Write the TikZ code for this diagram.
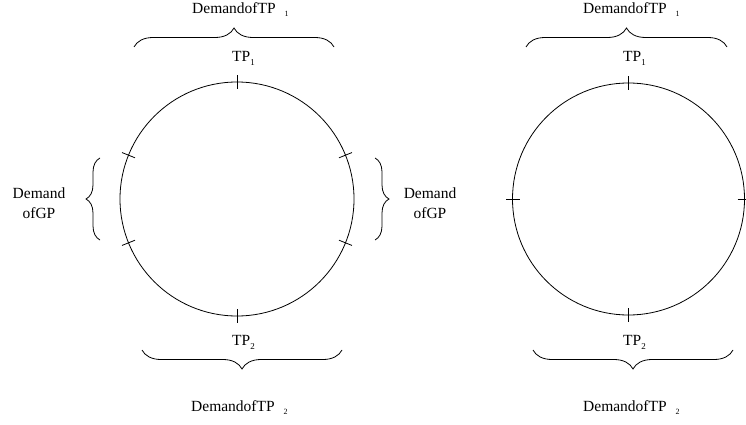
\documentclass[tikz,border=0pt]{standalone}
\usepackage{fontspec}
\setmainfont{Liberation Serif}
\usetikzlibrary{decorations.pathreplacing}
\begin{document}
\begin{tikzpicture}[x=1pt,y=-1pt,
  ring/.style={circle,draw,line width=0.8pt,inner sep=0pt},
  tickmark/.style={line width=0.8pt},
  curly/.style={decorate,decoration={brace,amplitude=19pt},line width=0.8pt},
  sidecurly/.style={decorate,decoration={brace,amplitude=14pt},line width=0.8pt},
  lbl/.style={font=\fontsize{15.5}{17}\selectfont,inner sep=0pt},
  small/.style={font=\fontsize{15.5}{20}\selectfont,inner sep=0pt,align=center}]
\useasboundingbox (0,0) rectangle (746,425);
\newcommand{\lowsub}[3]{\raisebox{-#1}{\fontsize{#2}{#2}\selectfont #3}}

% ---------- left ring: TP1, TP2 and GP sectors ----------
\node[ring,minimum size=234pt] (L) at (237,199) {};
\foreach \a in {90,270,22,-22,158,202}
  \draw[tickmark,shift={(L.center)},rotate=\a] (110,0) -- (124,0);

\coordinate (lta) at (134,47);  \coordinate (ltb) at (334,47);
\draw[curly] (lta) -- (ltb);
\node[lbl,anchor=base west] (ldem1) at (192,13.5)
  {DemandofTP\hspace{9pt}\lowsub{3pt}{8}{1}};
\node[lbl,anchor=base west] (ltp1) at (232,61.5) {TP\lowsub{4pt}{9}{1}};

\coordinate (lba) at (342,350);  \coordinate (lbb) at (142,350);
\draw[curly] (lba) -- (lbb);
\node[lbl,anchor=base west] (ltp2) at (232,345.5) {TP\lowsub{4pt}{9}{2}};
\node[lbl,anchor=base west] (ldem2) at (191,411.5)
  {DemandofTP\hspace{9pt}\lowsub{3pt}{8}{2}};

\coordinate (lga) at (100,240);  \coordinate (lgb) at (100,158);
\draw[sidecurly] (lga) -- (lgb);
\node[small] (lgp) at (39,203) {Demand\\ofGP};

\coordinate (rga) at (375,158);  \coordinate (rgb) at (375,240);
\draw[sidecurly] (rga) -- (rgb);
\node[small] (rgp) at (430,203) {Demand\\ofGP};

% ---------- right ring: TP1 and TP2 halves ----------
\node[ring,minimum size=232pt] (R) at (628.5,199) {};
\foreach \a in {90,270,0,180}
  \draw[tickmark,shift={(R.center)},rotate=\a] (109,0) -- (123,0);

\coordinate (rta) at (526,47);  \coordinate (rtb) at (727,47);
\draw[curly] (rta) -- (rtb);
\node[lbl,anchor=base west] (rdem1) at (583,13.5)
  {DemandofTP\hspace{9pt}\lowsub{3pt}{8}{1}};
\node[lbl,anchor=base west] (rtp1) at (623,61.5) {TP\lowsub{4pt}{9}{1}};

\coordinate (rba) at (733,350);  \coordinate (rbb) at (533,350);
\draw[curly] (rba) -- (rbb);
\node[lbl,anchor=base west] (rtp2) at (623,345.5) {TP\lowsub{4pt}{9}{2}};
\node[lbl,anchor=base west] (rdem2) at (583,411.5)
  {DemandofTP\hspace{9pt}\lowsub{3pt}{8}{2}};
\end{tikzpicture}
\end{document}
